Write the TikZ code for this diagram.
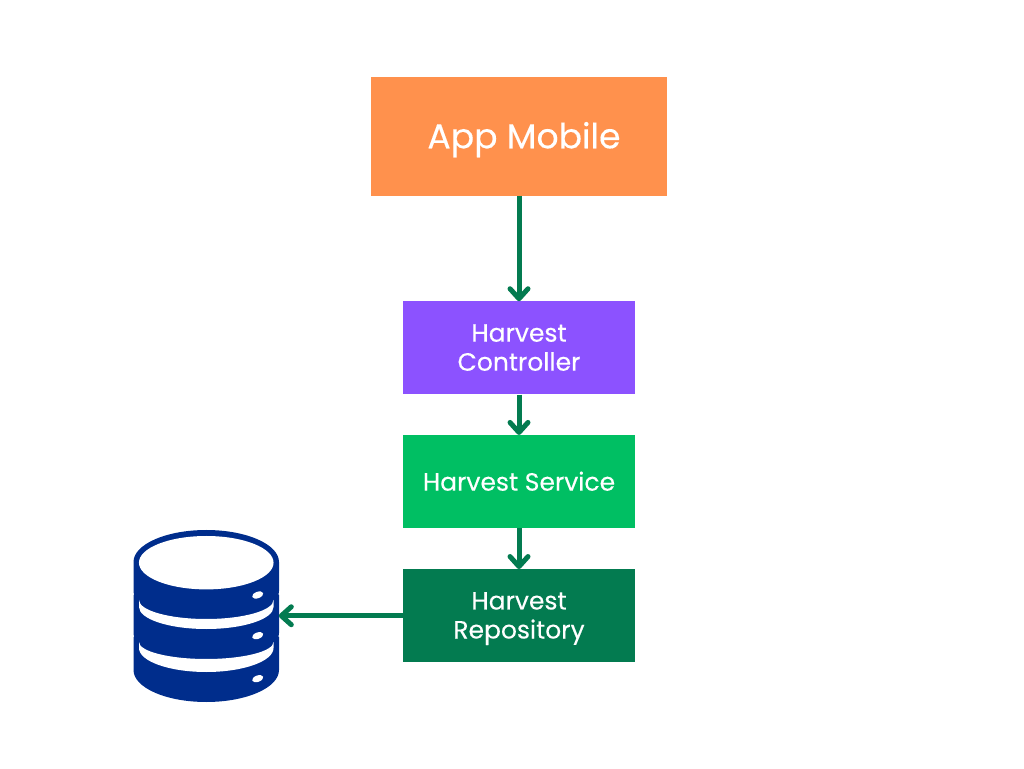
\documentclass[tikz,border=0pt]{standalone}
\usepackage{fontspec}
\setmainfont{Poppins}[FakeBold=0.25]
\usetikzlibrary{arrows.meta,positioning}
\definecolor{appcolor}{HTML}{FF914D}
\definecolor{controllercolor}{HTML}{8C52FF}
\definecolor{servicecolor}{HTML}{00BF63}
\definecolor{repocolor}{HTML}{037B50}
\definecolor{dbcolor}{HTML}{002D8C}
\begin{document}
\begin{tikzpicture}[
            x=1pt, y=1pt,
            node distance = 40.7pt,
            data/.style={
                rectangle,
                text = white,
                align = center,
                inner sep = 0pt,
                text height = 45.5pt,
                text depth = 0pt,
                minimum width = 232pt,
                minimum height = 93pt,
                font = \fontsize{25}{29}\selectfont
            },
            link/.style={
                draw = repocolor,
                line width = 5pt,
                -{Straight Barb[round, length=10pt, width=18pt]}
            },
            pill/.style={fill = white, rotate = 20}
        ]
        \useasboundingbox (0,0) rectangle (1024,768);

        \node[data, fill = appcolor, minimum width = 296pt, minimum height = 118.5pt,
            text height = 24pt, font = \fontsize{34.6}{40}\selectfont] (app) at (519,631.7) {\hspace*{10pt}App Mobile};
        \node[data, fill = controllercolor, below=105.5pt of app] (controller) {Harvest\\Controller};
        \node[data, fill = servicecolor, text height = 18pt, below=40.3pt of controller] (service) {Harvest Service};
        \node[data, fill = repocolor, below=of service] (repo) {Harvest\\Repository};
        \node[minimum width = 145.5pt, minimum height = 171.7pt, inner sep = 0pt, left=124pt of repo] (db) {};

        % database icon
        \fill[dbcolor] (133.5,206) arc (180:0:72.75 and 32) -- (279,177)
            arc (0:-180:72.75 and 28) -- cycle;
        \fill[dbcolor] (133.5,135) -- (133.5,173) arc (180:0:72.75 and 6) -- (279,135)
            arc (0:-180:72.75 and 26) -- cycle;
        \fill[dbcolor] (133.5,98) -- (133.5,131) arc (180:0:72.75 and 6) -- (279,98)
            arc (0:-180:72.75 and 32) -- cycle;
        \fill[white] (206.25,205.3) ellipse (67.3 and 26.7);
        \fill[white] (139,168) arc (180:360:67.25 and 19) -- (273.5,161)
            arc (360:180:67.25 and 22) -- cycle;
        \fill[white] (139,126) arc (180:360:67.25 and 17) -- (273.5,120)
            arc (360:180:67.25 and 24) -- cycle;
        \fill[shift={(257.7,173)}, pill] (0,0) ellipse (5.8 and 3.2);
        \fill[shift={(257.7,132.3)}, pill] (0,0) ellipse (5.8 and 3.2);
        \fill[shift={(257.7,89.3)}, pill] (0,0) ellipse (5.8 and 3.2);

        \draw[link] (app) -- (controller);
        \draw[link] (controller) -- (service);
        \draw[link] (service) -- (repo);
        \draw[link] (repo) -- (db);
    \end{tikzpicture}
\end{document}
